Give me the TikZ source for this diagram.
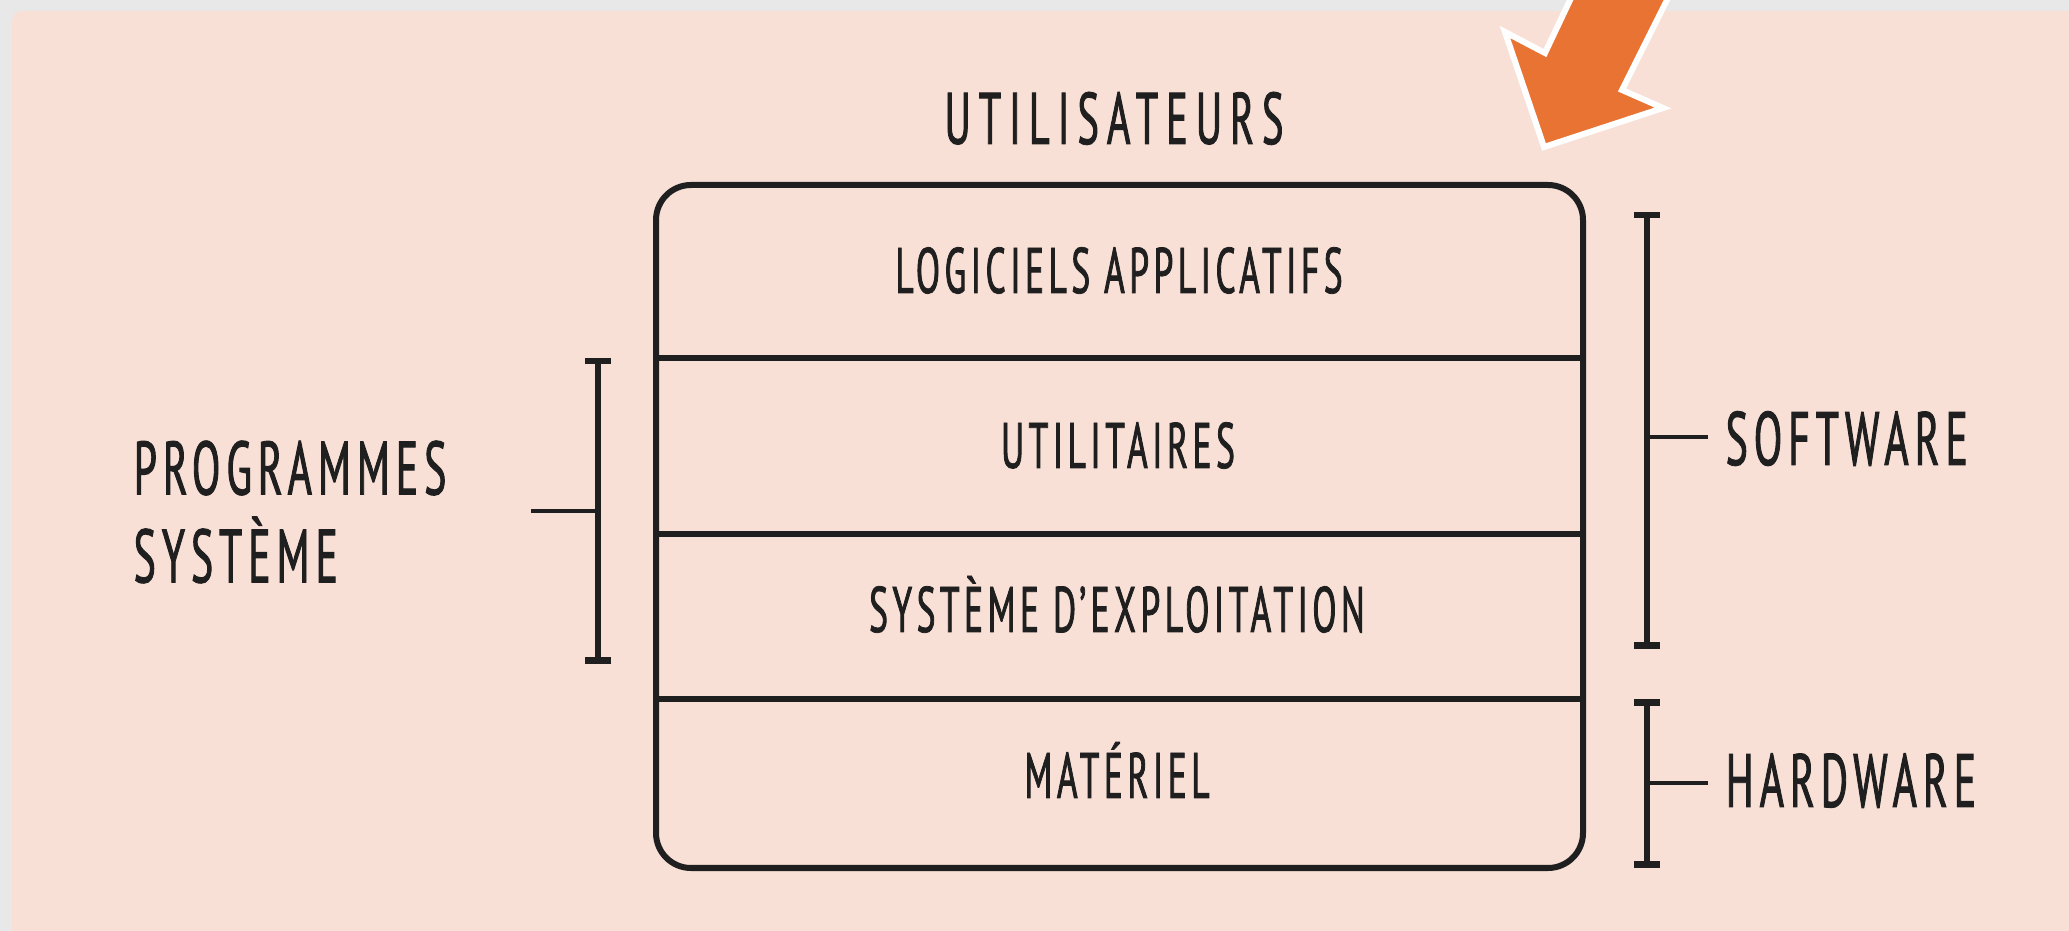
\documentclass[tikz,border=0pt]{standalone}
\usepackage{fontspec}
\usepackage{xcolor}
\usetikzlibrary{arrows.meta}
\usetikzlibrary{calc}
\newfontfamily\capsfont{PT Sans}[FakeStretch=0.55,FakeBold=1.2,LetterSpace=8]
\definecolor{panel}{HTML}{F8E0D7}
\definecolor{dorange}{HTML}{E97333}
\colorlet{ink}{black!88}
\colorlet{shadow}{black!9}
\tikzstyle{layer}=[font=\capsfont\fontsize{18.3}{19}\selectfont\addfontfeature{LetterSpace=7},text=ink,inner sep=0pt]
\tikzstyle{title}=[layer,font=\capsfont\fontsize{20.8}{21}\selectfont\addfontfeature{LetterSpace=11}]
\tikzstyle{side}=[font=\capsfont\fontsize{21.5}{25}\selectfont,text=ink,inner sep=0pt,align=left]
\tikzstyle{frame}=[line width=.06cm,draw=ink]
\tikzstyle{bracket}=[line width=.065cm,draw=ink,arrows={Bar[width=.26cm]-Bar[width=.26cm]}]
\tikzstyle{tick}=[line width=.035cm,draw=ink]
\begin{document}
\begin{tikzpicture}[x=.01cm,y=-.01cm]
	\useasboundingbox (0,0) rectangle (2069,931);
	\clip (0,0) rectangle (2069,931);
	\fill[shadow] (0,0) rectangle (2069,931);
	\fill[panel,rounded corners=.1cm] (12,11) rectangle (2100,960);
	% the stack of layers
	\draw[frame,rounded corners=.35cm] (656,185) rectangle (1583,868);
	\foreach \yy in {358,534,699}
		\draw[frame] (656,\yy) -- (1583,\yy);
	\node[title,anchor=base] (users) at (1114,144) {UTILISATEURS};
	\node[layer,anchor=base] (apps)  at (1119,293) {LOGICIELS APPLICATIFS};
	\node[layer,anchor=base] (utils) at (1118,468) {UTILITAIRES};
	\node[layer,anchor=base] (os)    at (1117,632) {SYSTÈME D’EXPLOITATION};
	\node[layer,anchor=base] (hw)    at (1117,798) {MATÉRIEL};
	% labels beside the stack
	\node[side,anchor=west] (sysprog)  at (133,512) {PROGRAMMES\\SYSTÈME};
	\node[side,anchor=base west] (software) at (1725,465) {SOFTWARE};
	\node[side,anchor=base west] (hardware) at (1725,807) {HARDWARE};
	% brackets
	\coordinate (sp-top) at (598,358);
	\coordinate (sp-bot) at (598,664);
	\coordinate (sp-mid) at (598,511);
	\coordinate (sp-end) at (531,511);
	\coordinate (sw-top) at (1647,212);
	\coordinate (sw-bot) at (1647,649);
	\coordinate (sw-mid) at (1647,437);
	\coordinate (hw-top) at (1647,699);
	\coordinate (hw-bot) at (1647,868);
	\coordinate (hw-mid) at (1647,783);
	\draw[bracket] (sp-top) -- (sp-bot);
	\draw[tick] (sp-mid) -- (sp-end);
	\draw[bracket] (sw-top) -- (sw-bot);
	\draw[tick,shorten >=.17cm] (sw-mid) -- (sw-mid -| software.west);
	\draw[bracket] (hw-top) -- (hw-bot);
	\draw[tick,shorten >=.17cm] (hw-mid) -- (hw-mid -| hardware.west);
	% pointer arrow
	\filldraw[fill=dorange,draw=white,line width=.06cm,miter limit=20]
		(1589,-40) -- (1545,53) -- (1505,32) -- (1544,147)
		-- (1663,108) -- (1622,90) -- (1687,-40) -- cycle;
\end{tikzpicture}
\end{document}
